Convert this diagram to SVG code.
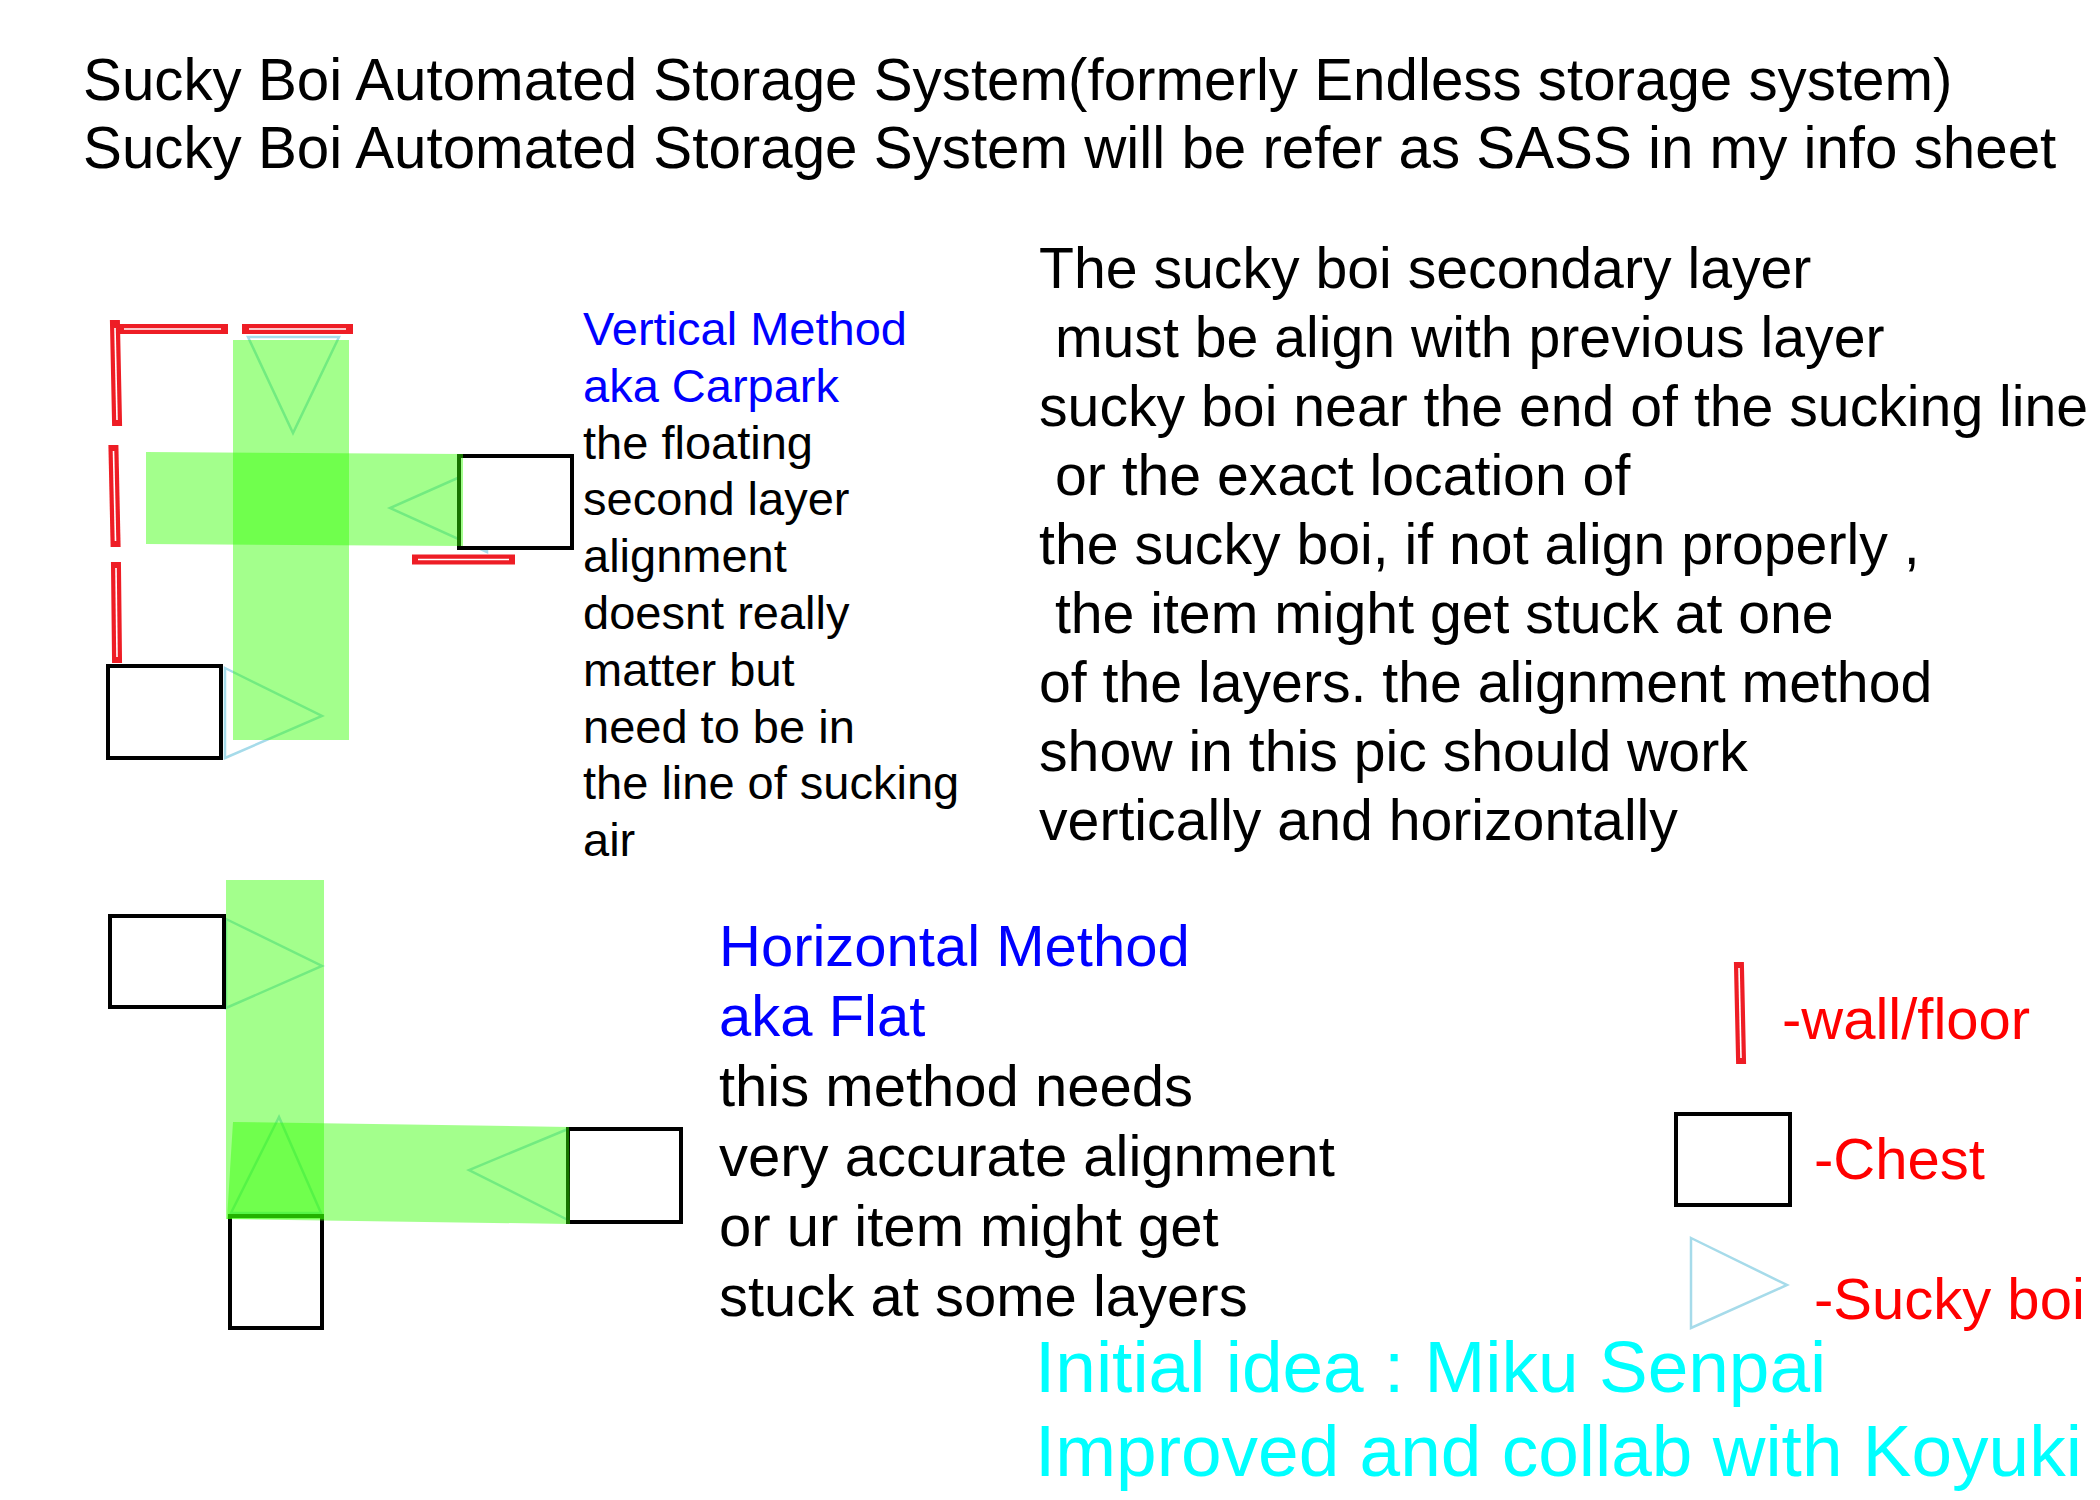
<svg xmlns="http://www.w3.org/2000/svg" width="2100" height="1500" viewBox="0 0 2100 1500">
  <style>
    text { font-family: "Liberation Sans", Arial, sans-serif; white-space: pre; }
    .title { font-size: 58.3px; fill: #000; }
    .para { font-size: 57.2px; fill: #000; }
    .vtext { font-size: 47px; fill: #000; }
    .htext { font-size: 58px; fill: #000; }
    .blue { fill: #0000ff; }
    .legend { font-size: 58px; fill: #ff0000; }
    .credit { font-size: 73px; fill: #00ffff; }
    .chest { fill: #fff; stroke: #000; stroke-width: 4; }
    .boi { fill: none; stroke: #a6dbea; stroke-width: 2.5; stroke-linejoin: miter; }
    .air { fill: #33ff00; fill-opacity: 0.45; }
    .wall { stroke: #ee1d25; stroke-width: 10; stroke-linecap: square; fill: none; }
    .wall-core { stroke: #fff; stroke-width: 1.6; fill: none; }
  </style>

  <!-- Title -->
  <g id="title">
    <text class="title" x="83" y="100">Sucky Boi Automated Storage System(formerly Endless storage system)</text>
    <text class="title" x="83" y="168">Sucky Boi Automated Storage System will be refer as SASS in my info sheet</text>
  </g>

  <!-- Vertical method diagram -->
  <g id="vertical-method">
    <g id="v-walls">
      <line class="wall" x1="122" y1="329" x2="223" y2="329"/>
      <line class="wall-core" x1="124" y1="329" x2="221" y2="329"/>
      <line class="wall" x1="115" y1="325" x2="117" y2="421"/>
      <line class="wall-core" x1="115" y1="328" x2="117" y2="420"/>
      <line class="wall" x1="247" y1="329" x2="348" y2="329"/>
      <line class="wall-core" x1="249" y1="329" x2="346" y2="329"/>
      <line class="wall" x1="113.5" y1="450" x2="115.5" y2="542"/>
      <line class="wall-core" x1="113.5" y1="451" x2="115.5" y2="541"/>
      <line class="wall" x1="116" y1="567" x2="117" y2="658"/>
      <line class="wall-core" x1="116" y1="568" x2="117" y2="657"/>
      <line class="wall" x1="417" y1="559.5" x2="510" y2="559.5"/>
      <line class="wall-core" x1="418" y1="559.5" x2="509" y2="559.5"/>
    </g>
    <g id="v-bois">
      <polygon class="boi" points="248,337 339,337 293,433"/>
      <polygon class="boi" points="487,465 390,508 487,552"/>
      <polygon class="boi" points="225,668 322,716 225,758"/>
    </g>
    <g id="v-chests">
      <rect id="v-chest-right" class="chest" x="459" y="456" width="113" height="92"/>
      <rect id="v-chest-left" class="chest" x="108" y="666" width="113" height="92"/>
    </g>
    <g id="v-air">
      <rect class="air" x="233" y="340" width="116" height="400"/>
      <polygon class="air" points="146,452 463,454 463,546 146,544"/>
    </g>
  </g>

  <!-- Horizontal method diagram -->
  <g id="horizontal-method">
    <g id="h-bois">
      <polygon class="boi" points="226,919 322,966 226,1008"/>
      <polygon class="boi" points="568,1129 469,1170 568,1220"/>
      <polygon class="boi" points="279,1117 231,1213 321,1213"/>
    </g>
    <g id="h-chests">
      <rect id="h-chest-top" class="chest" x="110" y="916" width="114" height="91"/>
      <rect id="h-chest-right" class="chest" x="568" y="1129" width="113" height="93"/>
      <rect id="h-chest-bottom" class="chest" x="230" y="1216" width="92" height="112"/>
    </g>
    <g id="h-air">
      <rect class="air" x="226" y="880" width="98" height="339"/>
      <polygon class="air" points="233,1122 569,1127 570,1224 227,1219"/>
    </g>
  </g>

  <!-- Vertical method text -->
  <g id="vertical-text">
    <text class="vtext blue" x="583" y="345">Vertical Method</text>
    <text class="vtext blue" x="583" y="402">aka Carpark</text>
    <text class="vtext" x="583" y="459">the floating</text>
    <text class="vtext" x="583" y="515">second layer</text>
    <text class="vtext" x="583" y="572">alignment</text>
    <text class="vtext" x="583" y="629">doesnt really</text>
    <text class="vtext" x="583" y="686">matter but</text>
    <text class="vtext" x="583" y="743">need to be in</text>
    <text class="vtext" x="583" y="799">the line of sucking</text>
    <text class="vtext" x="583" y="856">air</text>
  </g>

  <!-- Right paragraph -->
  <g id="explanation">
    <text class="para" x="1039" y="288">The sucky boi secondary layer</text>
    <text class="para" x="1039" y="357"> must be align with previous layer</text>
    <text class="para" x="1039" y="426">sucky boi near the end of the sucking line</text>
    <text class="para" x="1039" y="495"> or the exact location of</text>
    <text class="para" x="1039" y="564">the sucky boi, if not align properly ,</text>
    <text class="para" x="1039" y="633"> the item might get stuck at one</text>
    <text class="para" x="1039" y="702">of the layers. the alignment method</text>
    <text class="para" x="1039" y="771">show in this pic should work</text>
    <text class="para" x="1039" y="840">vertically and horizontally</text>
  </g>

  <!-- Horizontal method text -->
  <g id="horizontal-text">
    <text class="htext blue" x="719" y="966">Horizontal Method</text>
    <text class="htext blue" x="719" y="1036">aka Flat</text>
    <text class="htext" x="719" y="1106">this method needs</text>
    <text class="htext" x="719" y="1176">very accurate alignment</text>
    <text class="htext" x="719" y="1246">or ur item might get</text>
    <text class="htext" x="719" y="1316">stuck at some layers</text>
  </g>

  <!-- Legend -->
  <g id="legend">
    <g id="legend-wall">
      <line class="wall" x1="1739" y1="967" x2="1741" y2="1059"/>
      <line class="wall-core" x1="1739" y1="968" x2="1741" y2="1058"/>
      <text class="legend" x="1782" y="1039">-wall/floor</text>
    </g>
    <g id="legend-chest">
      <rect class="chest" x="1676" y="1114" width="114" height="91"/>
      <text class="legend" x="1814" y="1179">-Chest</text>
    </g>
    <g id="legend-boi">
      <polygon class="boi" points="1691,1238 1787,1285 1691,1328"/>
      <text class="legend" x="1814" y="1319">-Sucky boi</text>
    </g>
  </g>

  <!-- Credits -->
  <g id="credits">
    <text class="credit" x="1035" y="1392">Initial idea : Miku Senpai</text>
    <text class="credit" x="1035" y="1476">Improved and collab with Koyuki</text>
  </g>
</svg>
